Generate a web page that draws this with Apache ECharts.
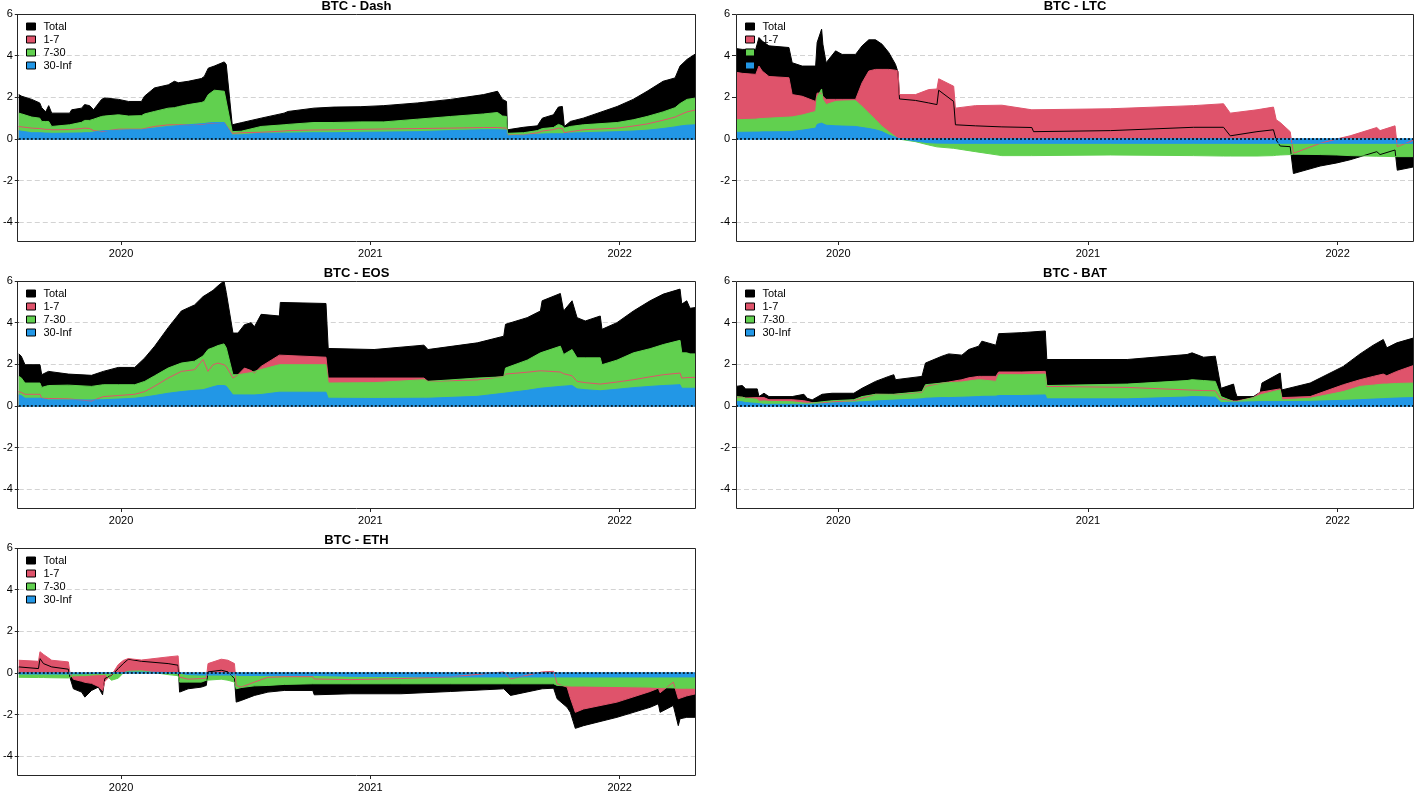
<!DOCTYPE html>
<html>
<head>
<meta charset="utf-8">
<script src="https://cdn.jsdelivr.net/npm/echarts@6/dist/echarts.min.js"></script>
<style>
html,body{margin:0;padding:0;background:#fff;}
#chart{width:1416px;height:793px;}
</style>
</head>
<body>
<div id="chart"></div>
<script>
// ---------- labels / ticks ----------
const bandNames = ['Total', '1-7', '7-30', '30-Inf'];
const yTickValues = [-4, -2, 0, 2, 4, 6];
const xTickValues = [2020, 2021, 2022];
const panelTitles = ['BTC - Dash', 'BTC - LTC', 'BTC - EOS', 'BTC - BAT', 'BTC - ETH'];

// ---------- BTC - Dash ----------
const dash_t = [2019.59,2019.602,2019.642,2019.674,2019.682,2019.698,2019.71,2019.722,2019.794,2019.802,
  2019.842,2019.854,2019.874,2019.89,2019.922,2019.934,2019.99,2020.03,2020.082,2020.094,
  2020.134,2020.19,2020.214,2020.23,2020.27,2020.322,2020.334,2020.35,2020.374,2020.414,
  2020.422,2020.446,2020.482,2020.562,2020.654,2020.67,2020.774,2020.854,2020.962,2021.054,
  2021.19,2021.322,2021.454,2021.51,2021.53,2021.546,2021.55,2021.614,2021.67,2021.69,
  2021.734,2021.754,2021.77,2021.778,2021.802,2021.854,2021.99,2022.054,2022.11,2022.174,
  2022.222,2022.242,2022.27,2022.306];
const dash_total = [2.13,2.05,1.9,1.73,1.5,1.3,1.6,1.24,1.24,1.4,
  1.48,1.65,1.6,1.4,1.9,1.97,1.9,1.8,1.8,2.05,
  2.45,2.6,2.77,2.7,2.77,2.9,3.0,3.4,3.5,3.7,
  3.58,0.68,0.78,1.0,1.24,1.32,1.48,1.53,1.55,1.6,
  1.73,1.9,2.13,2.29,1.9,1.8,0.44,0.56,0.63,1.0,
  1.16,1.53,1.56,0.6,0.84,1.0,1.56,1.9,2.29,2.77,
  2.93,3.5,3.82,4.1];
const dash_1_7 = [0.60,0.58,0.52,0.50,0.48,0.46,0.46,0.44,0.45,0.47,
  0.50,0.52,0.50,0.40,0.35,0.38,0.47,0.47,0.47,0.50,
  0.60,0.68,0.68,0.68,0.68,0.70,0.72,0.75,0.77,0.79,
  0.79,0.27,0.30,0.32,0.38,0.40,0.43,0.44,0.46,0.48,
  0.50,0.52,0.55,0.55,0.53,0.52,0.19,0.19,0.30,0.38,
  0.45,0.52,0.50,0.30,0.35,0.44,0.52,0.62,0.72,0.90,
  1.05,1.16,1.30,1.40];
const dash_7_30 = [1.24,1.20,1.05,1.00,0.84,0.84,0.84,0.60,0.68,0.70,
  0.80,0.89,0.89,0.95,1.08,1.10,1.16,1.10,1.12,1.20,
  1.32,1.48,1.50,1.55,1.65,1.75,1.80,2.13,2.34,2.29,
  2.29,0.35,0.37,0.60,0.68,0.70,0.79,0.79,0.82,0.82,
  0.95,1.08,1.20,1.27,1.10,1.08,0.27,0.30,0.40,0.50,
  0.55,0.70,0.63,0.52,0.60,0.68,0.79,0.92,1.08,1.30,
  1.50,1.70,1.90,1.97];
const dash_30_inf = [0.39,0.37,0.30,0.30,0.29,0.28,0.28,0.27,0.28,0.28,
  0.29,0.30,0.30,0.33,0.39,0.40,0.42,0.44,0.44,0.46,
  0.52,0.60,0.62,0.64,0.68,0.73,0.74,0.77,0.79,0.79,
  0.79,0.19,0.20,0.27,0.28,0.28,0.30,0.30,0.32,0.33,
  0.35,0.40,0.44,0.44,0.43,0.43,0.15,0.18,0.22,0.24,
  0.25,0.25,0.25,0.26,0.28,0.30,0.35,0.38,0.42,0.50,
  0.58,0.62,0.66,0.68];

// ---------- BTC - LTC ----------
const ltc_t = [2019.59,2019.615,2019.669,2019.682,2019.695,2019.722,2019.802,2019.815,2019.855,2019.909,
  2019.915,2019.933,2019.938,2019.951,2019.989,2020.015,2020.069,2020.095,2020.122,2020.149,
  2020.175,2020.202,2020.229,2020.239,2020.245,2020.309,2020.362,2020.395,2020.402,2020.462,
  2020.469,2020.549,2020.655,2020.775,2020.782,2021.09,2021.423,2021.543,2021.57,2021.677,
  2021.743,2021.754,2021.77,2021.81,2021.823,2021.93,2021.997,2022.05,2022.157,2022.17,
  2022.23,2022.239,2022.306];
const ltc_total = [4.34,4.3,4.3,4.87,4.7,4.47,4.39,3.66,3.5,3.5,
  4.63,5.27,4.55,3.66,4.23,4.06,4.06,4.47,4.76,4.76,
  4.55,4.15,3.58,3.2,1.92,1.85,1.73,1.65,2.34,1.8,
  0.68,0.63,0.58,0.55,0.35,0.4,0.56,0.56,0.15,0.35,
  0.44,-0.05,-0.34,-0.37,-1.66,-1.3,-1.15,-1.0,-0.61,-0.75,
  -0.53,-1.5,-1.34];
const ltc_1_7 = [3.2,3.15,3.1,3.5,3.26,3.0,2.94,2.13,2.05,1.8,
  2.2,2.2,2.05,1.9,1.9,1.9,1.9,2.7,3.26,3.34,
  3.34,3.34,3.3,3.26,2.13,2.13,2.37,2.4,2.89,2.53,
  1.48,1.6,1.62,1.4,1.4,1.45,1.6,1.69,1.24,1.4,
  1.53,0.92,0.79,0.35,-0.69,-0.21,0.0,0.15,0.55,0.4,
  0.63,-0.37,-0.05];
const ltc_7_30 = [0.92,0.93,0.95,0.97,0.98,1.0,1.05,1.06,1.15,1.32,
  2.0,2.4,1.9,1.65,1.8,1.82,1.84,1.56,1.24,0.92,
  0.6,0.35,0.11,0.0,-0.05,-0.13,-0.29,-0.38,-0.4,-0.45,
  -0.46,-0.61,-0.8,-0.8,-0.78,-0.77,-0.8,-0.82,-0.82,-0.82,
  -0.8,-0.78,-0.77,-0.75,-0.73,-0.75,-0.77,-0.8,-0.83,-0.83,
  -0.85,-0.85,-0.85];
const ltc_30_inf = [0.32,0.32,0.33,0.33,0.34,0.34,0.35,0.36,0.42,0.52,
  0.7,0.76,0.7,0.66,0.63,0.62,0.6,0.55,0.5,0.44,
  0.35,0.19,0.08,0.03,-0.02,-0.1,-0.18,-0.2,-0.21,-0.21,
  -0.21,-0.21,-0.21,-0.21,-0.21,-0.21,-0.21,-0.21,-0.21,-0.21,
  -0.21,-0.21,-0.21,-0.21,-0.21,-0.21,-0.21,-0.21,-0.21,-0.21,
  -0.21,-0.21,-0.21];

// ---------- BTC - EOS ----------
const eos_t = [2019.59,2019.6,2019.615,2019.675,2019.682,2019.709,2019.789,2019.882,2019.929,2019.989,
  2020.055,2020.095,2020.135,2020.189,2020.242,2020.295,2020.329,2020.349,2020.369,2020.389,
  2020.413,2020.422,2020.449,2020.469,2020.495,2020.522,2020.535,2020.562,2020.635,2020.639,
  2020.822,2020.831,2021.015,2021.215,2021.231,2021.429,2021.535,2021.542,2021.629,2021.682,
  2021.689,2021.762,2021.775,2021.809,2021.829,2021.862,2021.922,2021.929,2021.989,2022.055,
  2022.122,2022.175,2022.242,2022.249,2022.269,2022.282,2022.306];
const eos_total = [2.5,2.39,1.98,1.98,1.5,1.66,1.53,1.47,1.66,1.85,
  1.85,2.3,2.87,3.76,4.56,4.85,5.25,5.4,5.55,5.77,
  6.0,5.45,3.5,3.5,3.9,4.0,3.8,4.4,4.32,4.97,
  4.92,2.76,2.71,2.92,2.71,3.03,3.35,3.92,4.24,4.56,
  5.05,5.4,4.56,5.05,4.24,4.08,4.32,3.68,4.0,4.56,
  5.05,5.37,5.61,4.89,5.05,4.69,4.73];
const eos_1_7 = [0.69,0.65,0.56,0.56,0.37,0.36,0.34,0.24,0.45,0.5,
  0.56,0.69,0.95,1.34,1.66,1.74,2.23,1.66,1.98,2.06,
  1.98,1.9,1.34,1.5,1.82,1.7,1.58,1.9,2.44,2.44,
  2.34,1.34,1.34,1.34,1.18,1.25,1.42,1.53,1.62,1.69,
  1.69,1.63,1.55,1.45,1.18,1.12,1.05,1.05,1.15,1.26,
  1.4,1.5,1.58,1.34,1.36,1.37,1.37];
const eos_7_30 = [1.42,1.35,1.1,1.1,0.89,0.98,1.0,0.94,1.02,1.02,
  1.02,1.18,1.45,1.82,2.06,2.15,2.4,2.71,2.8,2.9,
  2.98,2.8,1.5,1.5,1.55,1.6,1.66,1.75,1.98,1.98,
  1.98,1.1,1.12,1.26,1.18,1.34,1.4,1.82,2.2,2.55,
  2.6,2.87,2.47,2.71,2.31,2.31,2.31,1.98,2.2,2.55,
  2.75,2.95,3.15,2.55,2.55,2.5,2.5];
const eos_30_inf = [0.53,0.5,0.37,0.37,0.29,0.29,0.29,0.29,0.3,0.33,
  0.37,0.43,0.5,0.61,0.69,0.75,0.78,0.85,0.92,0.98,
  0.98,0.95,0.53,0.53,0.53,0.53,0.53,0.55,0.66,0.66,
  0.66,0.37,0.36,0.37,0.37,0.46,0.61,0.62,0.75,0.85,
  0.86,0.94,0.95,0.98,0.82,0.78,0.73,0.73,0.8,0.88,
  0.94,0.98,1.02,0.85,0.85,0.85,0.85];

// ---------- BTC - BAT ----------
const bat_t = [2019.59,2019.615,2019.629,2019.675,2019.682,2019.702,2019.722,2019.815,2019.862,2019.875,
  2019.895,2019.935,2019.975,2020.062,2020.095,2020.149,2020.202,2020.222,2020.229,2020.335,
  2020.349,2020.415,2020.442,2020.495,2020.522,2020.562,2020.575,2020.631,2020.642,2020.735,
  2020.829,2020.835,2021.157,2021.397,2021.417,2021.463,2021.51,2021.533,2021.583,2021.59,
  2021.597,2021.663,2021.69,2021.697,2021.77,2021.777,2021.89,2022.023,2022.09,2022.143,
  2022.183,2022.197,2022.237,2022.306];
const bat_total = [0.94,0.98,0.82,0.82,0.45,0.61,0.45,0.45,0.56,0.37,
  0.29,0.56,0.61,0.61,0.85,1.18,1.42,1.5,1.26,1.42,
  2.06,2.39,2.5,2.44,2.71,2.87,3.11,2.92,3.47,3.52,
  3.6,2.23,2.23,2.47,2.55,2.34,2.39,0.85,1.05,0.69,
  0.45,0.45,0.66,1.1,1.58,0.77,1.1,1.9,2.5,2.92,
  3.19,2.79,3.03,3.27];
const bat_1_7 = [0.42,0.42,0.38,0.4,0.32,0.4,0.3,0.3,0.25,0.22,
  0.16,0.15,0.2,0.26,0.37,0.56,0.55,0.55,0.53,0.66,
  0.94,1.1,1.15,1.26,1.35,1.42,1.42,1.42,1.63,1.63,
  1.66,0.94,0.89,0.77,0.76,0.74,0.73,0.34,0.24,0.24,
  0.24,0.4,0.66,0.7,0.82,0.4,0.45,1.02,1.26,1.42,
  1.53,1.45,1.66,1.95];
const bat_7_30 = [0.45,0.42,0.37,0.32,0.22,0.24,0.22,0.2,0.14,0.13,
  0.14,0.2,0.25,0.3,0.45,0.56,0.56,0.56,0.56,0.69,
  1.02,1.1,1.12,1.15,1.2,1.26,1.25,1.18,1.5,1.5,
  1.53,0.98,1.05,1.22,1.26,1.22,1.18,0.45,0.21,0.21,
  0.21,0.4,0.53,0.55,0.77,0.29,0.37,0.69,0.94,1.0,
  1.05,1.05,1.08,1.1];
const bat_30_inf = [0.22,0.2,0.16,0.12,0.08,0.08,0.08,0.08,0.08,0.08,
  0.08,0.1,0.14,0.18,0.2,0.24,0.27,0.28,0.28,0.34,
  0.37,0.4,0.4,0.42,0.43,0.45,0.46,0.47,0.5,0.5,
  0.53,0.34,0.34,0.43,0.45,0.44,0.42,0.16,0.18,0.18,
  0.18,0.2,0.21,0.21,0.21,0.2,0.22,0.27,0.3,0.33,
  0.35,0.36,0.38,0.4];

// ---------- BTC - ETH ----------
const eth_t = [2019.59,2019.669,2019.675,2019.689,2019.722,2019.789,2019.795,2019.809,2019.842,2019.855,
  2019.882,2019.909,2019.926,2019.935,2019.962,2019.989,2020.009,2020.029,2020.082,2020.189,
  2020.229,2020.235,2020.269,2020.322,2020.342,2020.349,2020.402,2020.429,2020.455,2020.462,
  2020.482,2020.535,2020.589,2020.655,2020.769,2020.775,2020.922,2021.122,2021.322,2021.535,
  2021.542,2021.562,2021.689,2021.735,2021.749,2021.789,2021.802,2021.822,2021.855,2021.989,
  2022.122,2022.155,2022.162,2022.215,2022.235,2022.242,2022.269,2022.306];
const eth_total = [0.29,0.21,0.69,0.45,0.29,0.18,-0.21,-0.76,-0.92,-1.16,
  -0.84,-0.68,-1.05,-0.27,-0.11,0.21,0.45,0.66,0.56,0.45,
  0.37,-0.92,-0.76,-0.68,-0.6,0.05,0.13,0.05,-0.27,-1.4,
  -1.32,-1.08,-0.92,-0.84,-0.84,-1.05,-1.0,-1.0,-0.89,-0.76,
  -0.76,-1.08,-0.76,-0.73,-1.24,-1.65,-1.89,-2.66,-2.53,-2.13,
  -1.65,-1.48,-1.89,-1.56,-2.53,-2.2,-2.13,-2.13];
const eth_1_7 = [0.61,0.56,1.02,0.89,0.61,0.53,0.02,-0.3,-0.4,-0.45,
  -0.5,-0.65,-0.85,-0.4,-0.1,0.4,0.6,0.69,0.62,0.77,
  0.82,-0.2,-0.3,-0.27,-0.25,0.45,0.66,0.61,0.45,-0.6,
  -0.68,-0.44,-0.21,-0.18,-0.18,-0.29,-0.32,-0.27,-0.19,0.05,
  0.08,-0.29,0.05,0.08,-0.52,-0.68,-1.2,-1.89,-1.73,-1.4,
  -0.89,-0.73,-0.95,-0.44,-1.24,-1.2,-1.1,-1.0];
const eth_7_30 = [-0.21,-0.22,-0.22,-0.22,-0.23,-0.24,-0.2,-0.14,-0.13,-0.13,
  -0.1,-0.08,-0.08,-0.06,-0.35,-0.25,0.0,0.08,0.1,-0.08,
  -0.13,-0.44,-0.44,-0.44,-0.35,-0.27,-0.3,-0.35,-0.44,-0.76,
  -0.7,-0.62,-0.6,-0.55,-0.52,-0.52,-0.52,-0.52,-0.52,-0.52,
  -0.52,-0.52,-0.52,-0.52,-0.6,-0.62,-0.63,-0.63,-0.63,-0.65,
  -0.68,-0.7,-0.7,-0.72,-0.73,-0.73,-0.73,-0.73];
const eth_30_inf = [-0.05,-0.05,-0.05,-0.05,-0.05,-0.05,-0.04,-0.04,-0.04,-0.04,
  -0.03,0.0,0.0,0.0,0.0,0.0,0.02,0.04,0.04,0.02,
  0.0,-0.08,-0.08,-0.1,-0.1,-0.1,-0.1,-0.1,-0.1,-0.12,
  -0.12,-0.12,-0.12,-0.12,-0.12,-0.14,-0.16,-0.18,-0.19,-0.19,
  -0.19,-0.19,-0.19,-0.19,-0.19,-0.19,-0.19,-0.19,-0.19,-0.19,
  -0.19,-0.19,-0.19,-0.19,-0.19,-0.19,-0.19,-0.19];

// ---------- layout / style ----------
const bandColors = ['#000000', '#DF536B', '#61D04F', '#2297E6'];
const FONT = '"Liberation Sans", Arial, sans-serif';
const PANEL_H = 227;
const panels = [
  { t: dash_t, vals: [dash_total, dash_1_7, dash_7_30, dash_30_inf], left: 17,  top: 14,  width: 679 },
  { t: ltc_t,  vals: [ltc_total, ltc_1_7, ltc_7_30, ltc_30_inf],     left: 736, top: 14,  width: 678 },
  { t: eos_t,  vals: [eos_total, eos_1_7, eos_7_30, eos_30_inf],     left: 17,  top: 281, width: 679 },
  { t: bat_t,  vals: [bat_total, bat_1_7, bat_7_30, bat_30_inf],     left: 736, top: 281, width: 678 },
  { t: eth_t,  vals: [eth_total, eth_1_7, eth_7_30, eth_30_inf],     left: 17,  top: 548, width: 679 }
];

const grid = [], xAxis = [], yAxis = [], series = [], legend = [], graphic = [];
const axisColor = '#262626';

panels.forEach((p, i) => {
  grid.push({ left: p.left, top: p.top, width: p.width, height: PANEL_H, show: false });
  xAxis.push({
    type: 'value', gridIndex: i, min: 2019.59, max: 2022.306, position: 'bottom',
    axisLine: { show: false, onZero: false },
    axisTick: { show: true, inside: false, customValues: xTickValues, length: 4, lineStyle: { color: axisColor } },
    axisLabel: { customValues: xTickValues, formatter: v => String(Math.round(v)),
      fontSize: 11, color: '#000', margin: 7, fontFamily: FONT },
    splitLine: { show: false }
  });
  yAxis.push({
    type: 'value', gridIndex: i, min: -4.9, max: 6, splitNumber: 5, position: 'left',
    axisLine: { show: false, onZero: false },
    axisTick: { show: true, customValues: yTickValues, length: 4, lineStyle: { color: axisColor } },
    axisLabel: { customValues: yTickValues, fontSize: 11, color: '#000', margin: 6, fontFamily: FONT },
    splitLine: { show: true, lineStyle: { color: '#D3D3D3', type: [5, 3], width: 1 } }
  });
  // filled areas (each from zero, overlaid in order)
  for (let k = 0; k < 4; k++) {
    series.push({
      type: 'line', name: bandNames[k], xAxisIndex: i, yAxisIndex: i,
      data: p.t.map((tt, j) => [tt, p.vals[k][j]]),
      color: bandColors[k],
      itemStyle: { color: bandColors[k] },
      symbol: 'none', showSymbol: false, silent: true,
      lineStyle: { width: 0, opacity: 0 },
      areaStyle: { color: bandColors[k], opacity: 1, origin: 'auto' },
      emphasis: { disabled: true }, z: 2
    });
  }
  // lines on top
  for (let k = 0; k < 4; k++) {
    const s = {
      type: 'line', name: bandNames[k] + ' line', xAxisIndex: i, yAxisIndex: i,
      data: p.t.map((tt, j) => [tt, p.vals[k][j]]),
      color: bandColors[k],
      symbol: 'none', showSymbol: false, silent: true,
      lineStyle: { width: 1, color: bandColors[k] },
      emphasis: { disabled: true }, z: 3
    };
    if (k === 3) {
      s.markLine = {
        silent: true, symbol: ['none', 'none'], label: { show: false }, animation: false,
        data: [
          { yAxis: 0, lineStyle: { color: '#2297E6', type: 'solid', width: 1.5 } },
          { yAxis: 0, lineStyle: { color: '#000', type: [2, 2], width: 1.5 } }
        ]
      };
    }
    series.push(s);
  }
  legend.push({
    data: bandNames, orient: 'vertical', left: p.left + 9, top: p.top + 7,
    itemWidth: 9, itemHeight: 7, itemGap: 2, icon: 'rect', selectedMode: false, padding: 0,
    itemStyle: { borderColor: '#000', borderWidth: 1 },
    textStyle: { fontSize: 11, color: '#000', fontFamily: FONT, lineHeight: 11, padding: [0, 0, 0, 3] }
  });
  graphic.push({
    type: 'rect', silent: true, z: 100,
    shape: { x: p.left + 0.5, y: p.top + 0.5, width: p.width - 1, height: PANEL_H },
    style: { fill: null, stroke: axisColor, lineWidth: 1 }
  });
  graphic.push({
    type: 'text', silent: true, z: 100,
    x: p.left + p.width / 2, y: p.top - 8,
    style: { text: panelTitles[i], font: 'bold 13px ' + FONT, fill: '#000',
      align: 'center', verticalAlign: 'middle', textAlign: 'center', textVerticalAlign: 'middle' }
  });
});

const chart = echarts.init(document.getElementById('chart'), null, { renderer: 'canvas' });
chart.setOption({
  animation: false,
  backgroundColor: '#ffffff',
  grid, xAxis, yAxis, series, legend, graphic
});
</script>
</body>
</html>
